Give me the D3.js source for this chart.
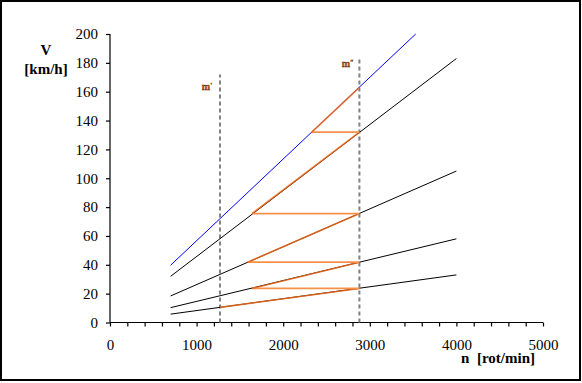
<!DOCTYPE html>
<html><head><meta charset="utf-8">
<script src="https://cdn.jsdelivr.net/npm/d3@7"></script>
<style>body{margin:0;background:#fff}svg{display:block}</style>
</head><body>
<script>
// data
const rpm = [700, 4000];
const gear1 = [5.8, 33];
const gear2 = [10.3, 58];
const gear3 = [18.4, 105];
const gear4 = [32, 183];
const gear5N = [700, 3530];
const gear5 = [39.7, 200];
const sawN = [1270, 2880, 1640, 2880, 1590, 2880, 1640, 2880, 2330, 2880];
const sawV = [10.5, 23.6, 23.6, 41.8, 41.8, 75.5, 75.5, 132, 132, 163];
const dashN = [1270, 2880];
const dashTop = [172, 184];
const markN = [1060, 2675];
const markV = [161, 177];
const markSup = ["'", "\u2033"];
const xTicks = [0, 1000, 2000, 3000, 4000, 5000];
const yTicks = [0, 20, 40, 60, 80, 100, 120, 140, 160, 180, 200];

const W = 582, H = 383;
const svg = d3.select("body").append("svg").attr("width", W).attr("height", H);
svg.append("rect").attr("x",1).attr("y",1).attr("width",579).attr("height",379)
  .attr("fill","#fff").attr("stroke","#000").attr("stroke-width",2);

const x = d3.scaleLinear().domain([0,5000]).range([110,543]);
const y = d3.scaleLinear().domain([0,200]).range([322.5,34]);
const font = "Liberation Serif, Times New Roman, serif";

// axes
const gx = svg.append("g").attr("transform",`translate(0,${y(0)})`)
  .call(d3.axisBottom(x).tickValues(d3.range(0,5001,200)).tickSize(4).tickFormat(""));
gx.selectAll("path").attr("d",`M${x(0)},0H${x(5000)}`);
const gxl = svg.append("g").attr("transform",`translate(0,${y(0)})`)
  .call(d3.axisBottom(x).tickValues(xTicks).tickSize(0).tickPadding(17).tickFormat(d3.format("d")));
gxl.attr("font-family",font).attr("font-size",15);
gxl.select(".domain").remove();
gxl.selectAll("text").style("font-family",font).style("font-size","15px").attr("fill","#000");

const gy = svg.append("g").attr("transform",`translate(${x(0)},0)`)
  .call(d3.axisLeft(y).tickValues(yTicks).tickSize(4).tickPadding(8));
gy.attr("font-family",font).attr("font-size",15);
gy.selectAll("path").attr("d",`M0,${y(0)}V${y(200)}`);
gy.selectAll("text").style("font-family",font).style("font-size","15px").attr("fill","#000");
[gx,gy].forEach(g=>{g.selectAll("line,path").attr("stroke","#000").attr("stroke-width",1.2);});

// dashed lines
dashN.forEach((n,i)=>{
  svg.append("line").attr("x1",x(n)).attr("x2",x(n)).attr("y1",y(0)).attr("y2",y(dashTop[i]))
    .attr("stroke","#808080").attr("stroke-width",2).attr("stroke-dasharray","4,3");
});

const line = d3.line().x(d=>x(d[0])).y(d=>y(d[1]));

// gear lines
[gear1,gear2,gear3,gear4].forEach(g=>{
  svg.append("path").attr("d",line(rpm.map((n,i)=>[n,g[i]]))).attr("fill","none")
    .attr("stroke","#000").attr("stroke-width",1);
});
svg.append("path").attr("d",line(gear5N.map((n,i)=>[n,gear5[i]]))).attr("fill","none")
  .attr("stroke","#0000ff").attr("stroke-width",1);

// sawtooth
const pts = sawN.map((n,i)=>[n,sawV[i]]);
for (let i=0;i<pts.length-1;i++){
  const horiz = pts[i][1]===pts[i+1][1];
  svg.append("path").attr("d",line([pts[i],pts[i+1]])).attr("fill","none")
    .attr("stroke", horiz ? "#f6914a" : "#f06818").attr("stroke-width", horiz?1.8:1.6)
    .attr("stroke-opacity", horiz?1:0.85);
}

// markers
markN.forEach((n,i)=>{
  const t = svg.append("text").attr("x",x(n)).attr("y",y(markV[i]))
    .attr("font-family",font).attr("font-size",10).attr("font-weight","bold")
    .attr("fill","#d05010").attr("stroke","#402000").attr("stroke-width",0.3);
  t.append("tspan").text("m");
  t.append("tspan").attr("font-size",7).attr("dy",-3).text(markSup[i]);
});

// axis titles
svg.append("text").attr("x",46).attr("y",55).attr("text-anchor","middle")
  .attr("font-family",font).attr("font-weight","bold").attr("font-size",15).text("V");
svg.append("text").attr("x",46).attr("y",74).attr("text-anchor","middle")
  .attr("font-family",font).attr("font-weight","bold").attr("font-size",15).text("[km/h]");
svg.append("text").attr("x",535).attr("y",363).attr("text-anchor","end")
  .attr("font-family",font).attr("font-weight","bold").attr("font-size",15).attr("xml:space","preserve").text("n  [rot/min]");
</script>
</body></html>
